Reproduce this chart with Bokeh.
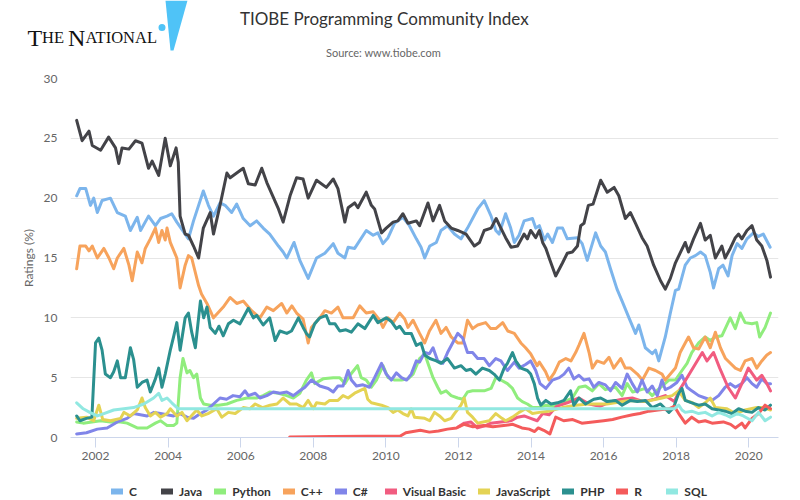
from bokeh.plotting import figure
from bokeh.layouts import column
from bokeh.models import Range1d, FixedTicker, Legend, LegendItem
from bokeh.core.properties import value
from bokeh.embed import file_html
from bokeh.resources import INLINE

# ---------------- data (decimal years, ratings in %) ----------------
languages = ["C", "Java", "Python", "C++", "C#", "Visual Basic", "JavaScript", "PHP", "R", "SQL"]
colors = ["#7cb5ec", "#434348", "#90ed7d", "#f7a35c", "#8085e9", "#f15c80", "#e4d354", "#2b908f", "#f45b5b", "#91e8e1"]

year_ticks = [2002, 2004, 2006, 2008, 2010, 2012, 2014, 2016, 2018, 2020]
year_labels = ["2002", "2004", "2006", "2008", "2010", "2012", "2014", "2016", "2018", "2020"]
rating_ticks = [0, 5, 10, 15, 20, 25, 30]

c_x = [2001.48, 2001.57, 2001.73, 2001.86, 2001.95, 2002.05, 2002.18, 2002.41, 2002.60, 2002.82, 2002.96, 2003.15, 2003.24,
       2003.46, 2003.65, 2003.79, 2003.97, 2004.10, 2004.24, 2004.56, 2004.70, 2004.97, 2005.11, 2005.25, 2005.43, 2005.57,
       2005.75, 2005.89, 2006.07, 2006.26, 2006.44, 2006.62, 2006.80, 2007.04, 2007.17, 2007.27, 2007.47, 2007.63, 2007.86,
       2008.09, 2008.32, 2008.55, 2008.68, 2008.87, 2008.96, 2009.14, 2009.46, 2009.65, 2009.78, 2009.92, 2010.06, 2010.24,
       2010.47, 2010.65, 2010.84, 2010.97, 2011.07, 2011.21, 2011.39, 2011.52, 2011.70, 2011.89, 2012.07, 2012.25, 2012.53,
       2012.71, 2012.90, 2013.03, 2013.12, 2013.30, 2013.44, 2013.54, 2013.67, 2013.81, 2014.04, 2014.13, 2014.23, 2014.37,
       2014.46, 2014.59, 2014.73, 2014.87, 2015.00, 2015.28, 2015.41, 2015.55, 2015.65, 2015.78, 2015.92, 2016.05, 2016.19,
       2016.37, 2016.51, 2016.70, 2016.88, 2016.97, 2017.15, 2017.34, 2017.43, 2017.52, 2017.70, 2017.84, 2017.98, 2018.07,
       2018.25, 2018.39, 2018.53, 2018.67, 2018.80, 2018.94, 2019.03, 2019.17, 2019.29, 2019.43, 2019.54, 2019.68, 2019.81,
       2019.95, 2020.13, 2020.27, 2020.40, 2020.59]
c_y = [20.2, 20.8, 20.8, 19.4, 20.0, 18.8, 19.8, 20.0, 18.8, 18.5, 17.3, 18.4, 17.3,
       18.5, 17.7, 18.3, 18.5, 18.7, 18.0, 16.6, 18.1, 20.6, 19.4, 18.5, 19.6, 19.4,
       18.8, 19.5, 18.3, 17.7, 18.1, 17.5, 17.0, 16.0, 15.5, 15.0, 16.3, 14.8, 13.3,
       15.0, 15.4, 16.2, 15.4, 15.0, 15.9, 15.8, 17.3, 16.9, 17.1, 16.2, 16.7, 17.9,
       18.4, 17.7, 16.6, 15.9, 15.0, 16.0, 16.3, 17.3, 17.7, 17.0, 16.6, 17.5, 19.1,
       19.8, 18.5, 17.3, 17.0, 18.7, 17.5, 16.3, 16.9, 18.1, 18.3, 17.5, 17.7, 16.5,
       17.0, 16.3, 17.5, 17.5, 16.6, 16.7, 16.2, 14.8, 15.8, 17.1, 16.0, 15.5, 14.1,
       12.4, 11.4, 10.0, 8.7, 9.4, 7.5, 7.0, 7.3, 6.4, 8.4, 10.4, 12.3, 12.4,
       14.4, 15.0, 15.2, 15.5, 15.2, 13.8, 12.5, 14.1, 14.4, 13.5, 15.2, 16.2, 15.8,
       16.6, 17.1, 16.8, 17.0, 15.9]

java_x = [2001.48, 2001.63, 2001.82, 2001.91, 2002.14, 2002.36, 2002.55, 2002.64, 2002.73, 2002.92, 2003.10, 2003.28, 2003.46,
          2003.56, 2003.74, 2003.92, 2004.06, 2004.22, 2004.28, 2004.33, 2004.47, 2004.56, 2004.70, 2004.84, 2004.97, 2005.16,
          2005.25, 2005.43, 2005.62, 2005.71, 2006.07, 2006.21, 2006.40, 2006.58, 2006.72, 2007.04, 2007.17, 2007.36, 2007.54,
          2007.72, 2007.86, 2008.09, 2008.36, 2008.55, 2008.68, 2008.87, 2008.96, 2009.14, 2009.23, 2009.46, 2009.60, 2009.69,
          2009.88, 2010.01, 2010.20, 2010.33, 2010.47, 2010.61, 2010.84, 2010.93, 2011.16, 2011.30, 2011.48, 2011.62, 2011.80,
          2011.98, 2012.21, 2012.44, 2012.58, 2012.71, 2012.90, 2013.04, 2013.17, 2013.30, 2013.45, 2013.63, 2013.81, 2013.90,
          2013.99, 2014.13, 2014.23, 2014.32, 2014.41, 2014.50, 2014.68, 2014.87, 2015.00, 2015.14, 2015.28, 2015.37, 2015.46,
          2015.58, 2015.71, 2015.92, 2016.10, 2016.29, 2016.42, 2016.60, 2016.74, 2016.88, 2017.06, 2017.20, 2017.38, 2017.57,
          2017.70, 2017.84, 2017.98, 2018.25, 2018.34, 2018.48, 2018.67, 2018.80, 2018.94, 2019.08, 2019.26, 2019.35, 2019.49,
          2019.63, 2019.72, 2019.81, 2019.95, 2020.09, 2020.22, 2020.36, 2020.50, 2020.60]
java_y = [26.5, 24.8, 25.6, 24.4, 24.0, 25.1, 24.2, 22.9, 24.2, 24.1, 24.8, 24.6, 22.5,
          23.1, 21.9, 25.0, 22.7, 24.2, 23.0, 18.5, 17.0, 16.9, 16.0, 15.0, 17.5, 18.8,
          17.0, 19.4, 22.1, 21.7, 22.5, 21.2, 21.1, 22.5, 21.3, 19.1, 18.0, 20.2, 21.7,
          21.6, 20.0, 21.5, 20.9, 21.6, 20.8, 18.0, 19.2, 19.6, 19.2, 20.5, 19.4, 19.1,
          17.1, 17.5, 18.0, 18.1, 18.7, 17.9, 18.1, 17.7, 19.6, 18.1, 19.4, 18.1, 17.5,
          17.3, 17.0, 16.0, 16.3, 17.3, 17.5, 18.3, 17.5, 16.7, 15.9, 16.0, 17.0, 16.6,
          17.3, 16.7, 17.3, 16.3, 15.8, 15.0, 13.5, 14.6, 15.4, 15.5, 16.0, 17.7, 17.9,
          19.4, 19.5, 21.5, 20.5, 20.9, 20.2, 18.3, 18.8, 17.9, 16.7, 16.0, 14.4, 13.1,
          12.4, 13.3, 14.6, 16.3, 15.5, 16.6, 17.9, 16.5, 16.9, 15.0, 16.0, 15.0, 15.8,
          16.7, 17.0, 16.6, 17.3, 17.7, 16.5, 16.0, 14.8, 13.4]

python_x = [2001.48, 2001.66, 2002.14, 2002.41, 2002.69, 2002.87, 2003.15, 2003.42, 2003.65, 2003.79, 2003.88, 2003.97, 2004.15,
            2004.24, 2004.33, 2004.41, 2004.52, 2004.60, 2004.70, 2004.79, 2004.89, 2004.98, 2005.16, 2005.39, 2005.62, 2005.89,
            2006.17, 2006.44, 2006.62, 2006.80, 2007.04, 2007.27, 2007.45, 2007.63, 2007.81, 2007.95, 2008.04, 2008.27, 2008.55,
            2008.73, 2008.87, 2009.01, 2009.22, 2009.32, 2009.46, 2009.60, 2009.74, 2009.92, 2010.06, 2010.24, 2010.43, 2010.61,
            2010.75, 2010.93, 2011.07, 2011.16, 2011.30, 2011.43, 2011.52, 2011.66, 2011.80, 2011.98, 2012.12, 2012.25, 2012.39,
            2012.71, 2012.90, 2013.03, 2013.17, 2013.35, 2013.49, 2013.63, 2013.76, 2013.90, 2014.04, 2014.23, 2014.41, 2014.60,
            2014.80, 2015.00, 2015.14, 2015.32, 2015.50, 2015.69, 2015.87, 2016.05, 2016.33, 2016.51, 2016.65, 2016.80, 2016.93,
            2017.15, 2017.34, 2017.50, 2017.80, 2017.98, 2018.16, 2018.30, 2018.43, 2018.62, 2018.80, 2018.94, 2019.08, 2019.26,
            2019.49, 2019.63, 2019.77, 2019.90, 2020.09, 2020.22, 2020.30, 2020.45, 2020.60]
python_y = [1.3, 1.2, 1.4, 1.3, 1.3, 1.2, 0.8, 0.8, 1.2, 1.4, 1.2, 1.0, 1.0,
            1.2, 5.0, 6.6, 5.4, 5.6, 5.0, 5.3, 3.3, 2.8, 2.7, 2.7, 2.8, 3.1,
            3.3, 3.3, 3.5, 3.8, 3.7, 3.5, 3.3, 3.7, 4.8, 5.4, 4.5, 4.9, 5.0,
            5.0, 4.5, 5.2, 6.0, 5.0, 4.8, 4.2, 4.8, 6.0, 5.0, 4.8, 4.8, 4.9,
            5.3, 6.6, 7.0, 6.2, 5.0, 4.2, 3.7, 3.9, 3.5, 3.3, 3.2, 3.8, 3.9,
            3.9, 4.1, 5.0, 4.8, 4.5, 4.1, 3.3, 3.0, 2.8, 2.5, 2.5, 2.7, 2.6,
            2.8, 3.1, 3.3, 4.2, 4.3, 3.9, 4.5, 4.0, 4.2, 3.5, 4.5, 3.8, 3.9,
            4.1, 3.5, 4.0, 4.8, 4.8, 5.6, 6.2, 7.1, 7.9, 8.4, 8.1, 8.4, 8.5,
            10.0, 9.1, 10.4, 9.6, 9.5, 9.6, 8.4, 9.2, 10.4]

cpp_x = [2001.48, 2001.57, 2001.73, 2001.82, 2001.91, 2002.05, 2002.23, 2002.37, 2002.50, 2002.60, 2002.78, 2002.92, 2003.01,
         2003.15, 2003.28, 2003.37, 2003.51, 2003.65, 2003.74, 2003.83, 2003.92, 2003.97, 2004.06, 2004.24, 2004.33, 2004.47,
         2004.56, 2004.65, 2004.84, 2004.92, 2005.07, 2005.25, 2005.52, 2005.71, 2005.89, 2006.07, 2006.30, 2006.53, 2006.72,
         2006.90, 2007.13, 2007.27, 2007.41, 2007.54, 2007.72, 2007.86, 2007.95, 2008.18, 2008.32, 2008.50, 2008.68, 2008.82,
         2009.10, 2009.28, 2009.46, 2009.65, 2009.83, 2009.92, 2010.06, 2010.20, 2010.38, 2010.52, 2010.61, 2010.75, 2010.93,
         2011.07, 2011.20, 2011.38, 2011.52, 2011.66, 2011.80, 2011.98, 2012.12, 2012.25, 2012.39, 2012.53, 2012.75, 2012.89,
         2013.03, 2013.22, 2013.36, 2013.54, 2013.72, 2013.85, 2013.99, 2014.17, 2014.23, 2014.40, 2014.50, 2014.64, 2014.78,
         2014.96, 2015.10, 2015.23, 2015.32, 2015.46, 2015.60, 2015.69, 2015.82, 2016.01, 2016.15, 2016.28, 2016.47, 2016.60,
         2016.74, 2016.93, 2017.07, 2017.25, 2017.43, 2017.61, 2017.70, 2017.84, 2017.98, 2018.11, 2018.25, 2018.34, 2018.48,
         2018.62, 2018.80, 2018.94, 2019.08, 2019.22, 2019.36, 2019.63, 2019.77, 2019.90, 2020.09, 2020.22, 2020.36, 2020.50,
         2020.60]
cpp_y = [14.1, 16.0, 16.0, 15.6, 16.0, 15.0, 15.8, 15.0, 14.1, 15.0, 15.8, 14.4, 13.1,
         15.5, 14.6, 15.8, 16.6, 17.5, 16.3, 17.3, 16.5, 17.5, 16.3, 15.0, 12.5, 14.4,
         15.2, 15.0, 12.7, 12.0, 11.2, 10.0, 10.9, 11.7, 11.2, 11.4, 10.6, 10.0, 10.9,
         10.6, 11.2, 10.4, 11.0, 10.4, 9.9, 7.9, 9.2, 10.0, 10.6, 10.4, 10.9, 10.0,
         10.0, 11.0, 10.4, 10.5, 9.8, 9.2, 10.0, 9.6, 10.4, 9.9, 9.2, 9.8, 8.7,
         7.9, 8.9, 9.8, 8.7, 9.2, 8.4, 7.9, 7.9, 9.8, 9.1, 9.4, 9.6, 9.1,
         9.1, 9.6, 8.9, 8.7, 7.9, 7.5, 7.0, 6.0, 6.3, 5.5, 4.8, 5.4, 6.3,
         6.6, 6.4, 7.1, 7.7, 8.7, 7.1, 5.8, 6.4, 6.2, 6.7, 5.8, 6.6, 5.8,
         5.8, 5.3, 4.8, 5.8, 5.6, 5.3, 4.8, 5.3, 5.8, 7.1, 7.9, 8.4, 7.5,
         7.4, 8.4, 7.5, 8.8, 7.5, 6.6, 5.8, 5.6, 6.4, 6.6, 5.8, 6.4, 6.9,
         7.1]

csharp_x = [2001.48, 2001.75, 2002.05, 2002.32, 2002.60, 2002.87, 2003.05, 2003.42, 2003.61, 2003.79, 2004.15, 2004.33, 2004.52,
            2004.70, 2004.89, 2005.07, 2005.25, 2005.43, 2005.61, 2005.79, 2005.98, 2006.12, 2006.21, 2006.40, 2006.53, 2006.72,
            2006.90, 2007.08, 2007.27, 2007.45, 2007.63, 2007.77, 2007.95, 2008.18, 2008.41, 2008.55, 2008.68, 2008.82, 2008.96,
            2009.05, 2009.19, 2009.37, 2009.55, 2009.69, 2009.88, 2010.01, 2010.15, 2010.29, 2010.43, 2010.57, 2010.70, 2010.84,
            2010.93, 2011.07, 2011.20, 2011.30, 2011.43, 2011.57, 2011.70, 2011.84, 2011.98, 2012.12, 2012.25, 2012.39, 2012.53,
            2012.71, 2012.85, 2013.03, 2013.17, 2013.35, 2013.54, 2013.67, 2013.85, 2013.99, 2014.13, 2014.25, 2014.41, 2014.59,
            2014.78, 2014.91, 2015.04, 2015.18, 2015.32, 2015.46, 2015.60, 2015.73, 2015.87, 2016.05, 2016.19, 2016.33, 2016.51,
            2016.65, 2016.79, 2016.93, 2017.06, 2017.20, 2017.34, 2017.48, 2017.61, 2017.70, 2017.84, 2018.02, 2018.16, 2018.30,
            2018.43, 2018.62, 2018.80, 2018.99, 2019.17, 2019.35, 2019.49, 2019.63, 2019.81, 2019.95, 2020.09, 2020.22, 2020.36,
            2020.50, 2020.60]
csharp_y = [0.3, 0.4, 0.7, 0.8, 1.3, 1.6, 2.0, 1.8, 2.1, 2.0, 1.8, 2.0, 1.7,
            1.6, 2.0, 2.3, 2.8, 3.3, 3.2, 3.5, 3.4, 3.9, 3.5, 3.7, 3.3, 3.5,
            3.8, 3.7, 3.8, 3.5, 3.9, 4.2, 4.8, 4.3, 4.1, 3.8, 4.3, 4.3, 5.6,
            4.8, 4.3, 4.4, 4.2, 5.0, 6.2, 5.3, 4.8, 5.4, 5.0, 4.8, 5.3, 6.4,
            6.3, 7.1, 7.0, 7.5, 6.4, 6.2, 7.1, 7.9, 8.7, 8.3, 7.1, 7.1, 6.6,
            6.6, 6.0, 6.6, 6.4, 5.6, 6.3, 5.8, 6.1, 6.4, 5.6, 4.5, 4.1, 4.8,
            5.0, 5.3, 5.8, 4.9, 5.2, 4.8, 4.9, 4.2, 4.6, 4.4, 3.9, 4.6, 4.1,
            5.3, 4.5, 3.8, 4.8, 3.8, 4.3, 3.5, 4.8, 4.0, 4.2, 4.6, 5.2, 4.2,
            3.9, 3.5, 3.3, 3.1, 3.5, 4.2, 4.5, 4.2, 4.5, 5.0, 4.5, 4.2, 4.9,
            4.5, 4.5]

vb_x = [2012.00, 2012.16, 2012.34, 2012.52, 2012.75, 2012.89, 2013.17, 2013.45, 2013.63, 2013.81, 2013.99, 2014.17, 2014.32,
        2014.50, 2014.70, 2015.00, 2015.32, 2015.60, 2015.90, 2016.20, 2016.50, 2016.79, 2017.10, 2017.40, 2017.70, 2017.95,
        2018.10, 2018.30, 2018.50, 2018.72, 2018.85, 2019.03, 2019.20, 2019.43, 2019.63, 2019.81, 2019.99, 2020.13, 2020.22,
        2020.36, 2020.50, 2020.60]
vb_y = [0.9, 1.2, 1.3, 0.8, 1.0, 1.2, 1.3, 1.4, 1.7, 1.8, 1.6, 1.4, 2.0,
        1.9, 2.6, 2.9, 3.3, 2.8, 2.6, 3.0, 3.2, 3.3, 3.0, 3.2, 3.5, 3.0,
        4.0, 5.0, 6.0, 7.1, 6.4, 7.1, 5.8, 4.2, 3.3, 4.5, 5.8, 5.2, 4.8,
        5.2, 4.5, 3.9]

js_x = [2001.48, 2001.75, 2001.95, 2002.09, 2002.20, 2002.41, 2002.69, 2002.78, 2002.96, 2003.15, 2003.28, 2003.37, 2003.51,
        2003.65, 2003.79, 2003.97, 2004.06, 2004.24, 2004.38, 2004.52, 2004.70, 2004.79, 2004.93, 2005.10, 2005.34, 2005.48,
        2005.66, 2005.85, 2006.07, 2006.25, 2006.40, 2006.60, 2006.81, 2007.00, 2007.17, 2007.36, 2007.54, 2007.72, 2007.86,
        2008.00, 2008.09, 2008.32, 2008.45, 2008.68, 2008.82, 2008.96, 2009.14, 2009.42, 2009.50, 2009.60, 2009.88, 2010.06,
        2010.20, 2010.33, 2010.47, 2010.61, 2010.70, 2010.79, 2011.07, 2011.21, 2011.34, 2011.48, 2011.62, 2011.80, 2011.89,
        2012.07, 2012.16, 2012.25, 2012.39, 2012.53, 2012.85, 2013.03, 2013.20, 2013.30, 2013.49, 2013.67, 2013.85, 2014.04,
        2014.23, 2014.50, 2014.87, 2015.23, 2015.60, 2016.10, 2016.70, 2017.15, 2017.61, 2017.89, 2018.07, 2018.25, 2018.45,
        2018.62, 2018.80, 2018.94, 2019.08, 2019.40, 2019.63, 2019.90, 2020.22, 2020.40, 2020.60]
js_y = [1.6, 1.7, 1.4, 2.7, 1.5, 1.4, 1.6, 2.1, 1.8, 2.3, 3.3, 2.5, 1.8,
        2.1, 1.7, 2.0, 2.4, 1.8, 2.1, 1.4, 2.0, 2.3, 1.8, 2.0, 2.4, 1.7,
        2.1, 2.0, 2.5, 2.4, 2.8, 2.5, 2.7, 2.8, 3.3, 2.8, 2.8, 2.5, 3.1,
        2.4, 2.9, 2.8, 3.1, 3.1, 3.5, 3.3, 3.7, 4.1, 3.2, 2.9, 2.7, 2.5,
        2.1, 2.3, 2.0, 1.8, 2.4, 1.7, 1.6, 1.4, 2.1, 1.8, 1.4, 1.6, 2.0,
        2.7, 3.3, 2.1, 1.7, 1.2, 1.4, 2.0, 1.6, 1.4, 1.7, 2.1, 2.4, 2.0,
        2.1, 2.2, 2.5, 2.7, 2.8, 2.8, 3.1, 3.0, 3.3, 3.5, 3.9, 3.1, 2.9,
        2.5, 2.9, 3.3, 2.5, 2.4, 2.0, 2.3, 2.5, 2.5, 2.3]

php_x = [2001.48, 2001.57, 2001.75, 2001.90, 2002.00, 2002.09, 2002.18, 2002.27, 2002.41, 2002.50, 2002.60, 2002.69, 2002.82,
         2002.96, 2003.05, 2003.15, 2003.28, 2003.42, 2003.51, 2003.65, 2003.74, 2003.83, 2003.92, 2004.06, 2004.15, 2004.24,
         2004.33, 2004.47, 2004.56, 2004.65, 2004.75, 2004.89, 2004.98, 2005.07, 2005.16, 2005.30, 2005.40, 2005.52, 2005.66,
         2005.80, 2005.98, 2006.21, 2006.35, 2006.44, 2006.62, 2006.80, 2006.95, 2007.08, 2007.27, 2007.40, 2007.59, 2007.72,
         2007.81, 2007.90, 2008.04, 2008.18, 2008.36, 2008.45, 2008.60, 2008.73, 2008.90, 2009.05, 2009.23, 2009.42, 2009.65,
         2009.78, 2010.01, 2010.15, 2010.29, 2010.38, 2010.52, 2010.70, 2010.84, 2010.97, 2011.07, 2011.21, 2011.39, 2011.52,
         2011.70, 2011.89, 2012.07, 2012.21, 2012.34, 2012.48, 2012.66, 2012.85, 2012.98, 2013.13, 2013.26, 2013.35, 2013.49,
         2013.58, 2013.72, 2013.90, 2013.99, 2014.09, 2014.18, 2014.27, 2014.41, 2014.55, 2014.73, 2014.91, 2015.09, 2015.18,
         2015.32, 2015.50, 2015.73, 2015.92, 2016.10, 2016.33, 2016.51, 2016.74, 2016.93, 2017.15, 2017.34, 2017.57, 2017.80,
         2017.93, 2018.07, 2018.16, 2018.25, 2018.43, 2018.62, 2018.80, 2018.99, 2019.17, 2019.35, 2019.54, 2019.72, 2019.90,
         2020.09, 2020.27, 2020.45, 2020.60]
php_y = [1.8, 1.4, 1.6, 1.7, 7.9, 8.3, 7.3, 5.3, 5.0, 5.5, 6.4, 5.0, 5.0,
         7.5, 6.5, 4.2, 4.6, 4.8, 3.8, 4.9, 5.8, 4.2, 5.3, 7.3, 8.4, 9.6,
         7.3, 10.0, 10.4, 8.8, 7.5, 11.4, 10.0, 10.9, 9.2, 8.7, 9.3, 8.5, 9.5,
         9.8, 9.5, 10.8, 10.0, 10.2, 9.4, 10.0, 8.1, 8.9, 8.7, 8.9, 10.0, 9.2,
         8.7, 8.4, 9.5, 10.0, 10.2, 9.5, 9.5, 8.9, 9.0, 8.8, 9.5, 9.1, 10.2,
         9.6, 10.0, 9.7, 9.1, 9.3, 8.7, 8.7, 7.7, 7.9, 6.9, 6.6, 6.4, 6.2,
         6.6, 5.8, 6.0, 5.6, 5.7, 5.3, 5.8, 5.6, 5.3, 4.8, 5.8, 6.2, 7.1,
         6.4, 5.8, 5.6, 5.3, 4.5, 3.3, 2.7, 3.1, 2.8, 2.9, 3.1, 3.9, 2.7,
         3.3, 2.8, 3.2, 3.3, 3.0, 3.1, 2.7, 3.1, 3.0, 3.1, 2.5, 2.8, 2.1,
         2.5, 3.7, 4.1, 3.1, 2.9, 2.7, 2.8, 2.4, 2.3, 2.2, 2.0, 2.4, 2.2,
         2.1, 2.5, 2.3, 2.7]

r_x = [2007.35, 2008.50, 2009.50, 2010.40, 2010.55, 2010.75, 2010.95, 2011.20, 2011.45, 2011.70, 2011.95, 2012.15, 2012.40,
       2012.70, 2012.95, 2013.25, 2013.50, 2013.75, 2013.95, 2014.10, 2014.20, 2014.35, 2014.52, 2014.68, 2014.90, 2015.15,
       2015.40, 2015.70, 2016.00, 2016.25, 2016.50, 2016.80, 2017.00, 2017.25, 2017.50, 2017.80, 2017.95, 2018.07, 2018.25,
       2018.43, 2018.62, 2018.80, 2018.99, 2019.30, 2019.50, 2019.63, 2019.81, 2019.90, 2020.09, 2020.27, 2020.45, 2020.60]
r_y = [0.05, 0.08, 0.1, 0.12, 0.4, 0.5, 0.6, 0.45, 0.55, 0.7, 0.8, 1.1, 0.9,
       1.0, 0.9, 1.0, 1.1, 0.8, 0.7, 0.5, 0.8, 0.6, 0.3, 1.7, 1.4, 1.5,
       1.2, 1.3, 1.4, 1.5, 1.7, 1.9, 2.0, 2.2, 2.3, 2.4, 2.6, 2.0, 1.2,
       1.7, 1.3, 1.4, 1.2, 1.3, 1.1, 0.8, 1.2, 0.8, 1.6, 2.0, 2.7, 2.4]

sql_x = [2001.48, 2001.66, 2001.84, 2002.05, 2002.23, 2002.50, 2002.78, 2003.05, 2003.33, 2003.60, 2003.74, 2003.83, 2003.97,
         2004.10, 2004.28, 2017.95, 2018.07, 2018.16, 2018.25, 2018.43, 2018.62, 2018.80, 2018.99, 2019.17, 2019.35, 2019.49,
         2019.68, 2019.85, 2020.09, 2020.27, 2020.45, 2020.60]
sql_y = [2.9, 2.4, 2.1, 1.8, 2.0, 2.3, 2.4, 2.5, 2.8, 3.3, 3.7, 3.1, 3.3,
         2.9, 2.4, 2.4, 2.7, 2.3, 2.1, 2.2, 2.0, 2.1, 1.8, 2.1, 1.9, 1.7,
         2.0, 1.8, 1.4, 2.1, 1.4, 1.7]

series_x = [c_x, java_x, python_x, cpp_x, csharp_x, vb_x, js_x, php_x, r_x, sql_x]
series_y = [c_y, java_y, python_y, cpp_y, csharp_y, vb_y, js_y, php_y, r_y, sql_y]

title_text = "TIOBE Programming Community Index"
subtitle_text = "Source: www.tiobe.com"

FONT = "Lato"
W = 800
HEADER_H, MAIN_H, FOOTER_H = 70, 400, 30


def no_frame_align(fig):
    try:
        fig.frame_align = False
    except AttributeError:
        pass


# ---------------- header (logo, title, subtitle) : pixel canvas ----------------
head = figure(width=W, height=HEADER_H, output_backend="svg", toolbar_location=None,
              x_range=Range1d(0, W), y_range=Range1d(HEADER_H, 0),
              x_axis_location=None, y_axis_location=None, min_border=0,
              background_fill_color="white", border_fill_color="white")
head.outline_line_color = None
head.grid.visible = False
no_frame_align(head)

head.text(x=[384], y=[18], text=[title_text], text_align="center", text_baseline="middle",
          text_font=value(FONT), text_font_size="17px", text_color="#333333")
head.text(x=[383], y=[52], text=[subtitle_text], text_align="center", text_baseline="middle",
          text_font=value(FONT), text_font_size="11px", text_color="#666666")
# logo "The National" (small-caps look) and the blue wedge
head.text(x=[27, 67.5], y=[37, 37], text=["T", "N"], text_align="left", text_baseline="alphabetic",
          text_font=value("Liberation Serif"), text_font_size="24px", text_color="#111111")
head.text(x=[41.5, 85], y=[37, 37], text=["HE", "ATIONAL"], text_align="left", text_baseline="alphabetic",
          text_font=value("Liberation Serif"), text_font_size="16.5px", text_color="#111111")
head.scatter(x=[161.5], y=[27], size=7, fill_color="#4fc3f7", line_color=None)
head.patch(x=[165, 187, 173, 170], y=[0, 0, 50, 50], fill_color="#4fc3f7", line_color=None)

# ---------------- main chart ----------------
p = figure(width=W, height=MAIN_H, output_backend="svg", toolbar_location=None,
           x_range=Range1d(2001.31, 2020.82), y_range=Range1d(0, 30),
           min_border_left=70, min_border_right=22, min_border_top=8, min_border_bottom=33,
           background_fill_color="white", border_fill_color="white")
p.outline_line_color = None
no_frame_align(p)

p.xaxis.ticker = FixedTicker(ticks=year_ticks)
p.xaxis.major_label_overrides = {t: l for t, l in zip(year_ticks, year_labels)}
p.xaxis.axis_line_color = "#ccd6eb"
p.xaxis.major_tick_line_color = "#ccd6eb"
p.xaxis.major_tick_out = 10
p.xaxis.major_tick_in = 0
p.xaxis.minor_tick_line_color = None
p.xaxis.major_label_text_color = "#666666"
p.xaxis.major_label_text_font = FONT
p.xaxis.major_label_text_font_size = "12px"
p.xaxis.major_label_standoff = 4

p.yaxis.ticker = FixedTicker(ticks=rating_ticks)
p.yaxis.axis_line_color = None
p.yaxis.major_tick_line_color = None
p.yaxis.minor_tick_line_color = None
p.yaxis.major_tick_out = 0
p.yaxis.major_tick_in = 0
p.yaxis.major_label_standoff = 13
p.yaxis.major_label_text_color = "#666666"
p.yaxis.major_label_text_font = FONT
p.yaxis.major_label_text_font_size = "12px"
p.yaxis.axis_label = "Ratings (%)"
p.yaxis.axis_label_text_color = "#666666"
p.yaxis.axis_label_text_font = FONT
p.yaxis.axis_label_text_font_size = "12px"
p.yaxis.axis_label_text_font_style = "normal"
p.yaxis.axis_label_standoff = 5

p.xgrid.grid_line_color = None
p.ygrid.grid_line_color = "#e6e6e6"
p.ygrid.ticker = FixedTicker(ticks=rating_ticks)

for name, col, xs, ys in zip(languages, colors, series_x, series_y):
    p.line(xs, ys, line_color=col, line_width=3, line_join="round", line_cap="round")

# ---------------- footer legend ----------------
foot = figure(width=W, height=FOOTER_H, output_backend="svg", toolbar_location=None,
              x_range=Range1d(0, 1), y_range=Range1d(0, 1),
              x_axis_location=None, y_axis_location=None, min_border=0,
              background_fill_color="white", border_fill_color="white")
foot.outline_line_color = None
foot.grid.visible = False
no_frame_align(foot)

items = []
for name, col in zip(languages, colors):
    # legend swatch renderer: its only segment lies outside the visible range
    r = foot.line(x=[5, 6], y=[5, 5], line_color=col, line_width=6, line_cap="round")
    items.append(LegendItem(label=name, renderers=[r]))

legend = Legend(items=items, orientation="horizontal", location=(111, 1),
                label_text_font=FONT, label_text_font_size="12px", label_text_font_style="bold",
                label_text_color="#333333", glyph_width=12, glyph_height=16, label_height=16,
                label_standoff=6, spacing=12, padding=0, margin=0,
                background_fill_alpha=0, border_line_color=None)
foot.add_layout(legend, "center")

layout = column(head, p, foot, spacing=0)
open("out.html", "w").write(file_html(layout, INLINE))
